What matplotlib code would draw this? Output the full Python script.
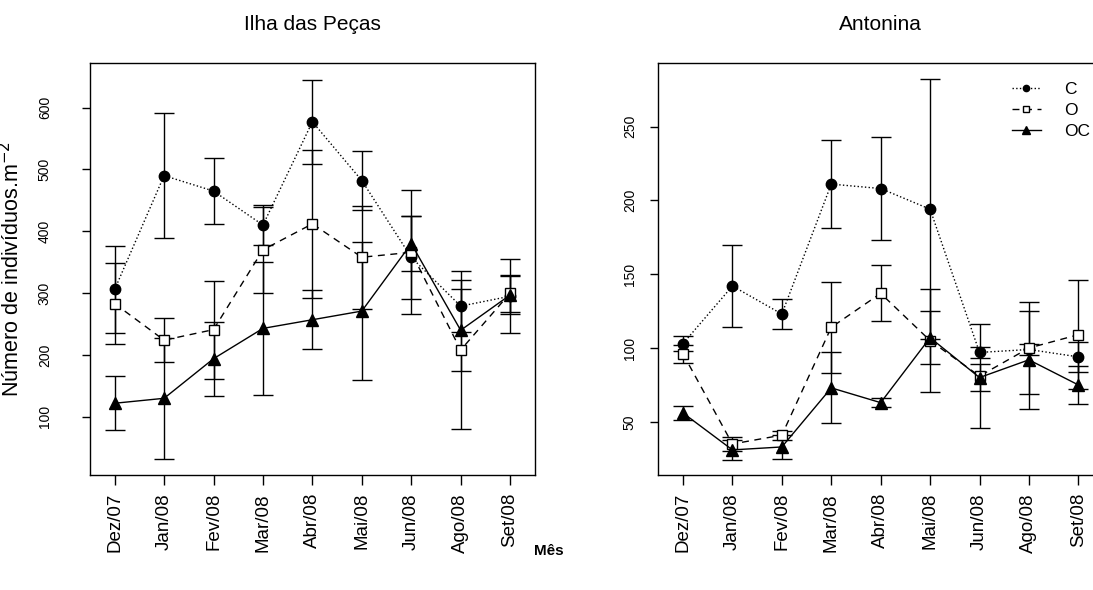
import matplotlib.pyplot as plt

plt.rcParams['font.family'] = ['Liberation Sans', 'DejaVu Sans']

# data
months = ['Dez/07', 'Jan/08', 'Fev/08', 'Mar/08', 'Abr/08', 'Mai/08', 'Jun/08', 'Ago/08', 'Set/08']

# Ilha das Peças
ilha_c = [306, 490, 465, 410, 577, 482, 358, 279, 295]
ilha_c_err = [70, 101, 54, 32, 68, 47, 67, 42, 60]
ilha_o = [283, 224, 241, 370, 412, 358, 366, 208, 300]
ilha_o_err = [65, 36, 79, 70, 120, 83, 100, 127, 30]
ilha_oc = [122, 130, 194, 243, 257, 271, 380, 240, 297]
ilha_oc_err = [44, 98, 60, 107, 48, 112, 45, 66, 31]

# Antonina
anto_c = [103, 142, 123, 211, 208, 194, 97, 99, 94]
anto_c_err = [5, 28, 10, 30, 35, 88, 4, 4, 10]
anto_o = [96, 35, 41, 114, 137, 105, 81, 100, 109]
anto_o_err = [6, 5, 3, 31, 19, 35, 35, 31, 37]
anto_oc = [56, 31, 33, 73, 63, 107, 80, 92, 75]
anto_oc_err = [5, 7, 8, 24, 3, 18, 9, 33, 13]

x = list(range(len(months)))

styles = {
    'C': dict(ls=':', marker='o', mfc='black', ms=7.5),
    'O': dict(ls=(0, (5, 4)), marker='s', mfc='white', ms=7.5),
    'OC': dict(ls='-', marker='^', mfc='black', ms=8.5),
}

fig = plt.figure(figsize=(10.93, 5.9), dpi=100)
ax1 = fig.add_axes([0.0823, 0.1949, 0.407, 0.6983])
ax2 = fig.add_axes([0.6023, 0.1949, 0.4069, 0.6983])


def draw(ax, series):
    for name, vals, errs in series:
        st = styles[name]
        ax.errorbar(x, vals, yerr=errs, fmt='none', ecolor='black',
                    elinewidth=1, capsize=7.5, capthick=1, zorder=2)
        ax.plot(x, vals, color='black', lw=1, ls=st['ls'], marker=st['marker'],
                mfc=st['mfc'], mec='black', mew=1, ms=st['ms'], label=name, zorder=3)
    ax.set_xlim(-0.5, 8.5)
    ax.set_xticks(x)
    ax.set_xticklabels(months, rotation=90, fontsize=13.5)
    ax.tick_params(axis='x', length=7, pad=6, width=1)
    ax.tick_params(axis='y', length=5.5, width=1, labelsize=10, labelrotation=90)
    for sp in ax.spines.values():
        sp.set_linewidth(1)


draw(ax1, [('C', ilha_c, ilha_c_err), ('O', ilha_o, ilha_o_err), ('OC', ilha_oc, ilha_oc_err)])
ax1.set_ylim(6, 672)
ax1.set_yticks([100, 200, 300, 400, 500, 600])
ax1.tick_params(axis='y', pad=22)
ax1.set_title('Ilha das Peças', fontsize=15, pad=24)
ax1.set_ylabel('Número de indivíduos.m$^{-2}$', fontsize=15.5)
ax1.yaxis.set_label_coords(24 / 1093, 1 - 269 / 590, transform=fig.transFigure)

draw(ax2, [('C', anto_c, anto_c_err), ('O', anto_o, anto_o_err), ('OC', anto_oc, anto_oc_err)])
ax2.set_ylim(14, 293)
ax2.set_yticks([50, 100, 150, 200, 250])
ax2.tick_params(axis='y', pad=10)
for ax in (ax1, ax2):
    for lab in ax.get_yticklabels():
        lab.set_va('center')
ax2.set_title('Antonina', fontsize=15, pad=24)

leg = ax2.legend(loc='upper left', bbox_to_anchor=(1003 / 1093, 1 - 73 / 590),
                 bbox_transform=fig.transFigure, frameon=False, fontsize=12.5,
                 handlelength=1.7, handletextpad=1.3, labelspacing=0.35,
                 borderpad=0, markerscale=0.6)

fig.text(549 / 1093, 1 - 551 / 590, 'Mês', ha='center', va='center',
         fontsize=11, fontweight='bold')

fig.savefig('out.png', dpi=100)
